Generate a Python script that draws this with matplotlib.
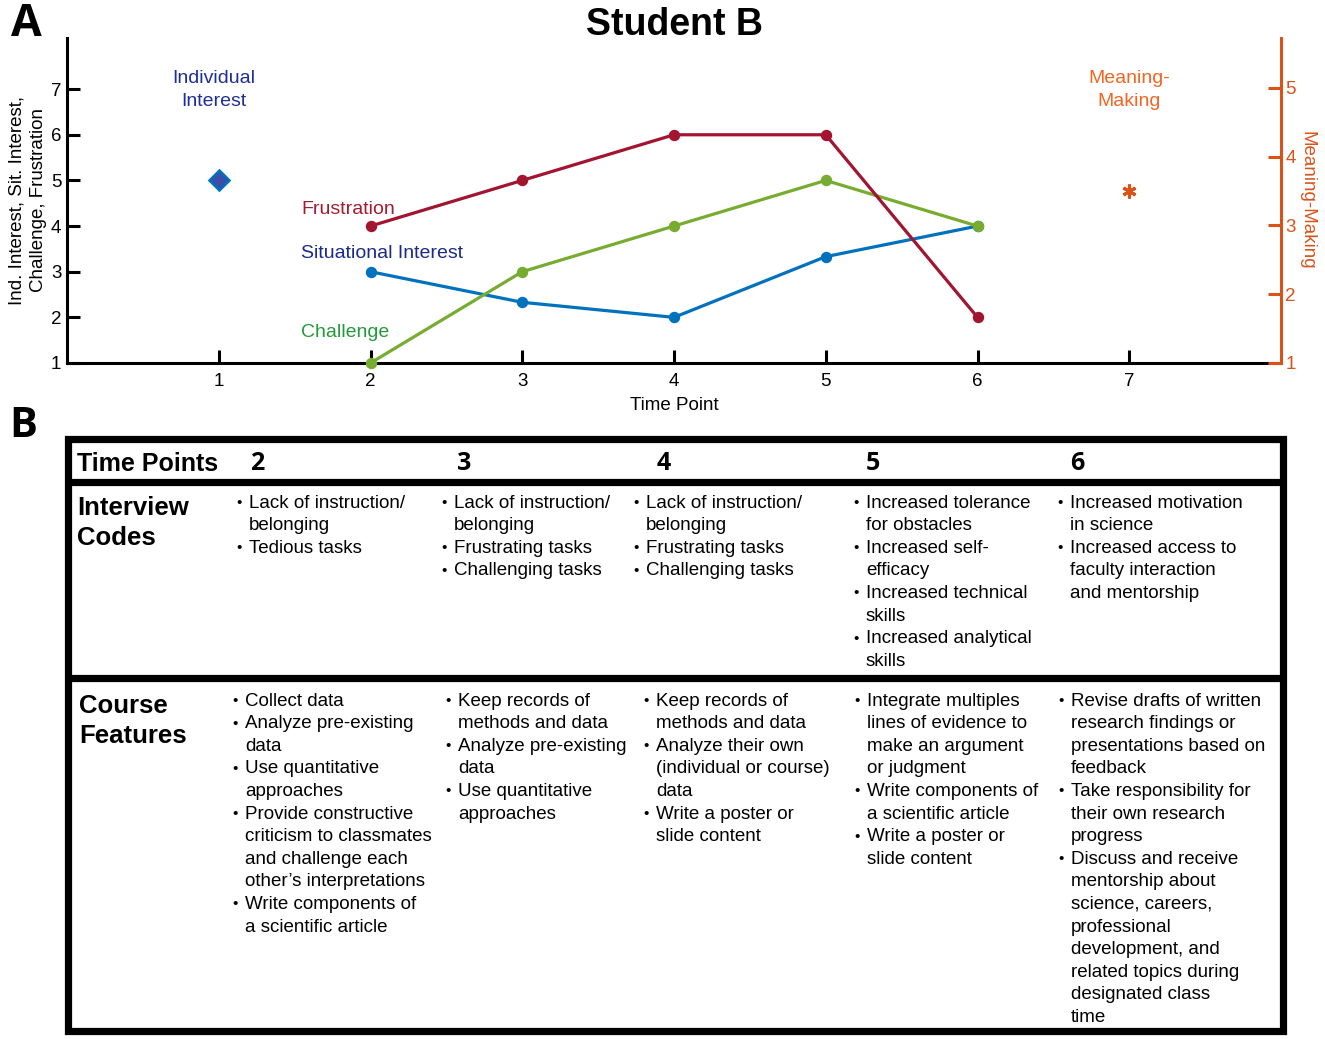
import matplotlib.pyplot as plt
from matplotlib.patches import Rectangle

plt.rcParams['font.family'] = ['Liberation Sans', 'DejaVu Sans']

# Panel A data
time_points = [1, 2, 3, 4, 5, 6, 7]
ind_x = [1]
ind_interest = [5]
line_x = [2, 3, 4, 5, 6]
sit_interest = [3, 2.33, 2, 3.33, 4]
challenge = [1, 3, 4, 5, 4]
frustration = [4, 5, 6, 6, 2]
mm_x = [7]
meaning_making = [3.5]

# Panel B data
table_cols = ['2', '3', '4', '5', '6']
interview_codes = [
    ['Lack of instruction/\nbelonging', 'Tedious tasks'],
    ['Lack of instruction/\nbelonging', 'Frustrating tasks', 'Challenging tasks'],
    ['Lack of instruction/\nbelonging', 'Frustrating tasks', 'Challenging tasks'],
    ['Increased tolerance\nfor obstacles', 'Increased self-\nefficacy',
     'Increased technical\nskills', 'Increased analytical\nskills'],
    ['Increased motivation\nin science', 'Increased access to\nfaculty interaction\nand mentorship'],
]
course_features = [
    ['Collect data', 'Analyze pre-existing\ndata', 'Use quantitative\napproaches',
     'Provide constructive\ncriticism to classmates\nand challenge each\nother\u2019s interpretations',
     'Write components of\na scientific article'],
    ['Keep records of\nmethods and data', 'Analyze pre-existing\ndata',
     'Use quantitative\napproaches'],
    ['Keep records of\nmethods and data', 'Analyze their own\n(individual or course)\ndata',
     'Write a poster or\nslide content'],
    ['Integrate multiples\nlines of evidence to\nmake an argument\nor judgment',
     'Write components of\na scientific article', 'Write a poster or\nslide content'],
    ['Revise drafts of written\nresearch findings or\npresentations based on\nfeedback',
     'Take responsibility for\ntheir own research\nprogress',
     'Discuss and receive\nmentorship about\nscience, careers,\nprofessional\ndevelopment, and\nrelated topics during\ndesignated class\ntime'],
]

c_frus = '#A2142F'
c_sit = '#0072BD'
c_chal = '#77AC30'
c_mm = '#D95319'

W, H = 1325, 1039
fig = plt.figure(figsize=(W / 100, H / 100), dpi=100)

# ---- Panel A ----
ax = fig.add_axes([67 / W, 1 - 363 / H, (1281 - 67) / W, 325 / H])
ax.set_xlim(0, 8)
ax.set_ylim(1, 8.12)
ax2 = ax.twinx()
ax2.set_ylim(1, 5.727)

ax.plot(ind_x, ind_interest, marker='D', ms=10.5, mfc='#3A4FA8', mec=c_sit, mew=1.8, ls='none', zorder=5)
ax.plot(line_x, sit_interest, color=c_sit, lw=2.3, marker='o', ms=7.2, clip_on=False, zorder=5)
ax.plot(line_x, challenge, color=c_chal, lw=2.3, marker='o', ms=7.2, clip_on=False, zorder=5)
ax.plot(line_x, frustration, color=c_frus, lw=2.3, marker='o', ms=7.2, clip_on=False, zorder=5)
ax2.plot(mm_x, meaning_making, color=c_mm, marker=(6, 2, 0), ms=10, mew=2.2, ls='none')

for s in ['top', 'right']:
    ax.spines[s].set_visible(False)
for s in ['top', 'left', 'bottom']:
    ax2.spines[s].set_visible(False)
ax.spines['left'].set_linewidth(2.2)
ax.spines['bottom'].set_linewidth(2.2)
ax2.spines['right'].set_linewidth(2.2)
ax2.spines['right'].set_color(c_mm)

ax.set_xticks(time_points)
ax.set_yticks(range(1, 8))
ax2.set_yticks(range(1, 6))
ax.tick_params(direction='in', length=9.5, width=2.2, labelsize=13.5)
ax.tick_params(axis='x', pad=7)
ax.tick_params(axis='y', pad=4)
ax2.tick_params(direction='in', length=9.5, width=2.2, labelsize=13.5,
                color=c_mm, labelcolor=c_mm, pad=3)

ax.set_xlabel('Time Point', fontsize=13.5, labelpad=5)
ax.set_ylabel('Ind. Interest, Sit. Interest,\nChallenge, Frustration', fontsize=13.5,
              labelpad=3, linespacing=1.35)
ax2.set_ylabel('Meaning-Making', fontsize=13.5, color=c_mm, rotation=270,
               labelpad=14)

ax.text(0.97, 6.98, 'Individual\nInterest', color='#1F2F99', fontsize=14,
        ha='center', va='center', linespacing=1.45)
ax.text(7, 6.98, 'Meaning-\nMaking', color='#F26522', fontsize=14,
        ha='center', va='center', linespacing=1.45)
ax.text(1.543, 4.36, 'Frustration', color='#A51C30', fontsize=14, va='center')
ax.text(1.543, 3.40, 'Situational Interest', color='#1B2A8C', fontsize=14, va='center')
ax.text(1.543, 1.67, 'Challenge', color='#229A3A', fontsize=14, va='center')

fig.text(674 / W, 1 - 25 / H, 'Student B', fontsize=27, fontweight='bold',
         ha='center', va='center')
fig.text(11 / W, 1 - 24 / H, 'A', fontsize=32, fontweight='bold', family='Open Sans',
         ha='left', va='center')

# ---- Panel B ----
tax = fig.add_axes([0, 0, 1, 1])
tax.set_xlim(0, W)
tax.set_ylim(H, 0)
tax.axis('off')
tax.patch.set_visible(False)

fig.text(9 / W, 1 - 427 / H, 'B', fontsize=30, fontweight='bold', family='Open Sans',
         ha='left', va='center')

tax.add_patch(Rectangle((68, 439), 1283 - 68, 1031 - 439, fill=False, lw=5.2, ec='black'))
tax.plot([68, 1283], [482, 482], color='black', lw=5.2, solid_capstyle='butt')
tax.plot([68, 1283], [678, 678], color='black', lw=5.2, solid_capstyle='butt')

tax.text(77, 464, 'Time Points', fontsize=18, fontweight='bold', va='center')
head_x = [250, 457, 657, 866, 1070]
for hx, lab in zip(head_x, table_cols):
    tax.text(hx, 464, lab, fontsize=18, fontweight='bold', family='Open Sans', va='center')

tax.text(77, 523, 'Interview\nCodes', fontsize=18.5, fontweight='bold', va='center',
         linespacing=1.35)
tax.text(79, 721, 'Course\nFeatures', fontsize=18.5, fontweight='bold', va='center',
         linespacing=1.35)

step = 22.6


def draw_cell(x, y0, items):
    y = y0
    for item in items:
        tax.text(x - 13, y, '\u2022', fontsize=11, va='center')
        for line in item.split('\n'):
            tax.text(x, y, line, fontsize=13.5, va='center')
            y += step


ic_x = [249, 454, 646, 866, 1070]
cf_x = [245, 458, 656, 867, 1071]
for x, items in zip(ic_x, interview_codes):
    draw_cell(x, 503, items)
for x, items in zip(cf_x, course_features):
    draw_cell(x, 701, items)

fig.savefig('out.png', dpi=100)
